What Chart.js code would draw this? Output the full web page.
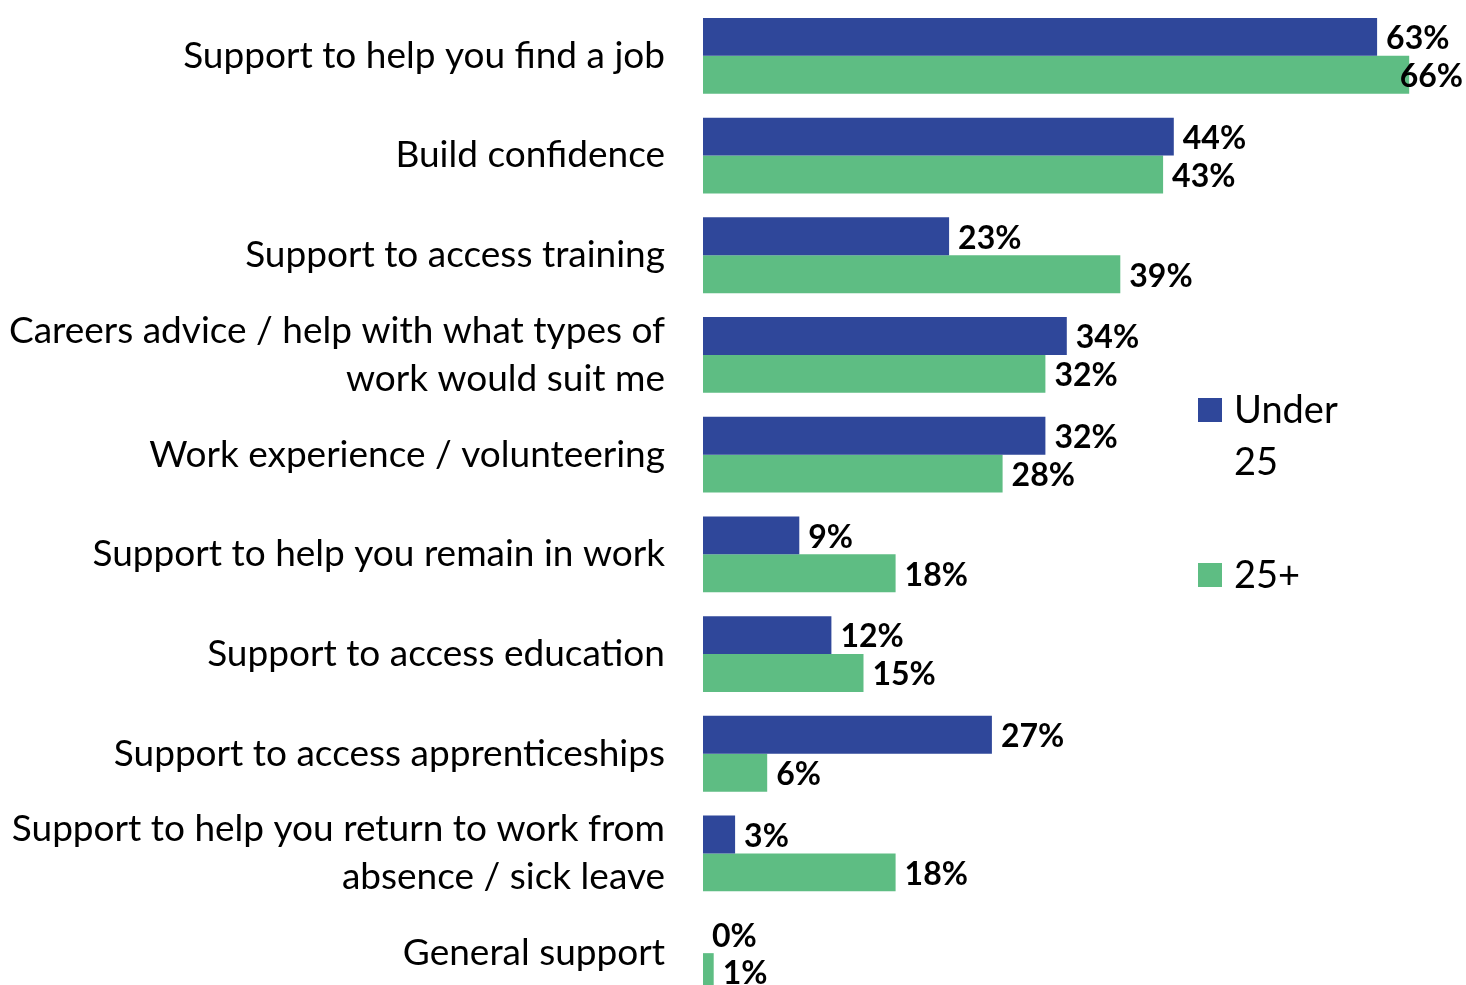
<!DOCTYPE html>
<html>
<head>
<meta charset="utf-8">
<script src="https://cdn.jsdelivr.net/npm/chart.js@4/dist/chart.umd.min.js"></script>
<style>
  html, body { margin: 0; padding: 0; background: #fff; overflow: hidden; }
  #wrap { width: 1466px; height: 1003px; position: relative; }
</style>
</head>
<body>
<div id="wrap"><canvas id="bars"></canvas></div>
<script>
var categories = [
    'Support to help you find a job',
    'Build confidence',
    'Support to access training',
    ['Careers advice / help with what types of', 'work would suit me'],
    'Work experience / volunteering',
    'Support to help you remain in work',
    'Support to access education',
    'Support to access apprenticeships',
    ['Support to help you return to work from', 'absence / sick leave'],
    'General support'
];
var under25 = [63, 44, 23, 34, 32, 9, 12, 27, 3, 0];
var over25 = [66, 43, 39, 32, 28, 18, 15, 6, 18, 1];
var seriesNames = [['Under', '25'], ['25+']];

var BLUE = '#2f479a';
var GREEN = '#5ebd83';
var FONT = 'Lato, "Open Sans", sans-serif';

// value labels at the end of each bar
var barLabels = {
    id: 'barLabels',
    afterDatasetsDraw: function (chart) {
        var c = chart.ctx;
        c.save();
        c.font = 'bold 32px ' + FONT;
        c.fillStyle = '#000';
        c.textBaseline = 'middle';
        chart.data.datasets.forEach(function (ds, i) {
            chart.getDatasetMeta(i).data.forEach(function (bar, j) {
                var txt = ds.data[j] + '%';
                var w = c.measureText(txt).width;
                var x = Math.min(bar.x + 9, chart.width - w - 3);
                c.fillText(txt, x, bar.y + 2);
            });
        });
        c.restore();
    }
};

// legend on the right, first entry wraps to two lines
var sideLegend = {
    id: 'sideLegend',
    afterDraw: function (chart) {
        var c = chart.ctx;
        var colors = [BLUE, GREEN];
        var tops = [398, 563];
        c.save();
        c.font = '38px ' + FONT;
        c.textBaseline = 'middle';
        seriesNames.forEach(function (lines, i) {
            c.fillStyle = colors[i];
            c.fillRect(1198, tops[i], 24, 24);
            c.fillStyle = '#000';
            lines.forEach(function (t, k) {
                c.fillText(t, 1234, tops[i] + 13 + k * 52);
            });
        });
        c.restore();
    }
};

new Chart(document.getElementById('bars'), {
    type: 'bar',
    data: {
        labels: categories,
        datasets: [
            { label: 'Under 25', data: under25, backgroundColor: BLUE },
            { label: '25+', data: over25, backgroundColor: GREEN }
        ]
    },
    options: {
        indexAxis: 'y',
        responsive: true,
        maintainAspectRatio: false,
        animation: false,
        categoryPercentage: 0.76,
        barPercentage: 1.0,
        layout: { padding: { top: 6, right: 14, left: 0, bottom: 0 } },
        plugins: {
            legend: { display: false },
            tooltip: { enabled: false }
        },
        scales: {
            x: { display: false, min: 0, max: 70 },
            y: {
                grid: { display: false, drawTicks: false },
                border: { display: false },
                ticks: {
                    color: '#000',
                    padding: 38,
                    font: { family: FONT, size: 37, lineHeight: 1.3 }
                },
                afterFit: function (axis) {
                    axis.width = 703;
                    axis.paddingTop = 0;
                    axis.paddingBottom = 0;
                }
            }
        }
    },
    plugins: [barLabels, sideLegend]
});
</script>
</body>
</html>
